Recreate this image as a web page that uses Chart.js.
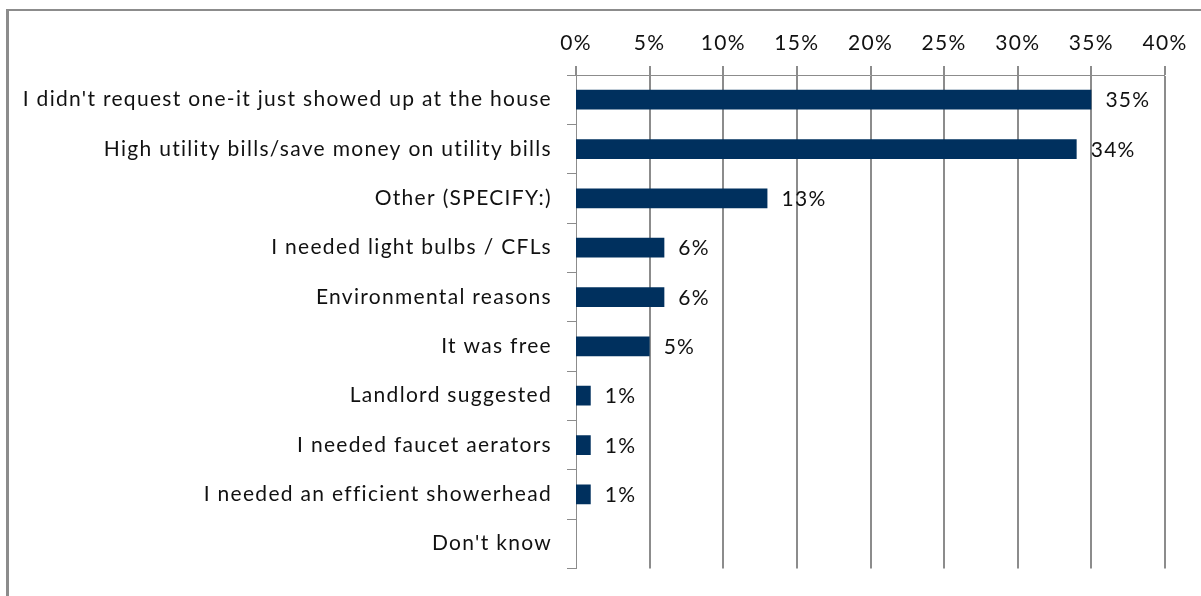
<!DOCTYPE html>
<html>
<head>
<meta charset="utf-8">
<script src="https://cdn.jsdelivr.net/npm/chart.js@4.4.1/dist/chart.umd.min.js"></script>
<style>
html,body{margin:0;padding:0;background:#fff;overflow:hidden;}
#wrap{position:relative;width:1201px;height:596px;}
#frame{position:absolute;left:6px;top:9px;width:1400px;height:800px;border-left:3px solid #8c8c8c;border-top:2px solid #8c8c8c;}
canvas{position:absolute;left:0;top:0;}
</style>
</head>
<body>
<div id="wrap">
<div id="frame"></div>
<canvas id="chart" width="1201" height="596"></canvas>
</div>
<script>
// survey answers, top to bottom
const reasons=[
"I didn't request one-it just showed up at the house",
"High utility bills/save money on utility bills",
"Other (SPECIFY:)",
"I needed light bulbs / CFLs",
"Environmental reasons",
"It was free",
"Landlord suggested",
"I needed faucet aerators",
"I needed an efficient showerhead",
"Don't know"
];
// percent of respondents
const shares=[35,34,13,6,6,5,1,1,1,0];
// axis range and step, in percent
const axisMin=0;
const axisMax=40;
const axisStep=5;

const FONT="Lato";
const SIZE=21;
const SPACING="1.3px";
const TEXT="#111";
const LINE="#8c8c8c";

// wider letter spacing for every text on the canvas
const spacing={
id:"spacing",
beforeUpdate(chart){chart.ctx.letterSpacing=SPACING;},
beforeDraw(chart){chart.ctx.letterSpacing=SPACING;}
};

// prints the percentage to the right of each bar
const valueLabels={
id:"valueLabels",
afterDatasetsDraw(chart){
let ctx=chart.ctx;
let meta=chart.getDatasetMeta(0);
ctx.save();
ctx.font=SIZE+"px "+FONT;
ctx.fillStyle=TEXT;
ctx.textAlign="left";
ctx.textBaseline="middle";
meta.data.forEach((bar,i)=>{
if(!shares[i]) return;
ctx.fillText(shares[i]+"%",bar.x+14,bar.y+1);
});
ctx.restore();
}
};

const ctx=document.getElementById("chart");

new Chart(ctx,{
type:"bar",
data:{
labels:reasons,
datasets:[{
data:shares,
backgroundColor:"#00305e",
borderWidth:0,
categoryPercentage:1,
barPercentage:0.4
}]
},
options:{
indexAxis:"y",
responsive:false,
animation:false,
events:[],
layout:{padding:{top:0,right:36,bottom:24,left:0}},
plugins:{legend:{display:false},tooltip:{enabled:false}},
scales:{
x:{
position:"top",
min:axisMin,
max:axisMax,
ticks:{
stepSize:axisStep,
padding:10,
color:TEXT,
font:{family:FONT,size:SIZE},
callback:v=>v+"%"
},
grid:{
color:LINE,
lineWidth:c=>c.index===0?0:2,
tickWidth:2,
tickLength:9
},
border:{display:true,color:LINE,width:1},
afterFit:s=>{s.height=75;}
},
y:{
ticks:{
padding:15,
color:TEXT,
font:{family:FONT,size:SIZE}
},
grid:{
drawOnChartArea:false,
color:LINE,
lineWidth:1,
tickLength:9
},
border:{display:true,color:LINE,width:1},
afterFit:s=>{s.width=576;}
}
}
},
plugins:[spacing,valueLabels]
});
</script>
</body>
</html>
